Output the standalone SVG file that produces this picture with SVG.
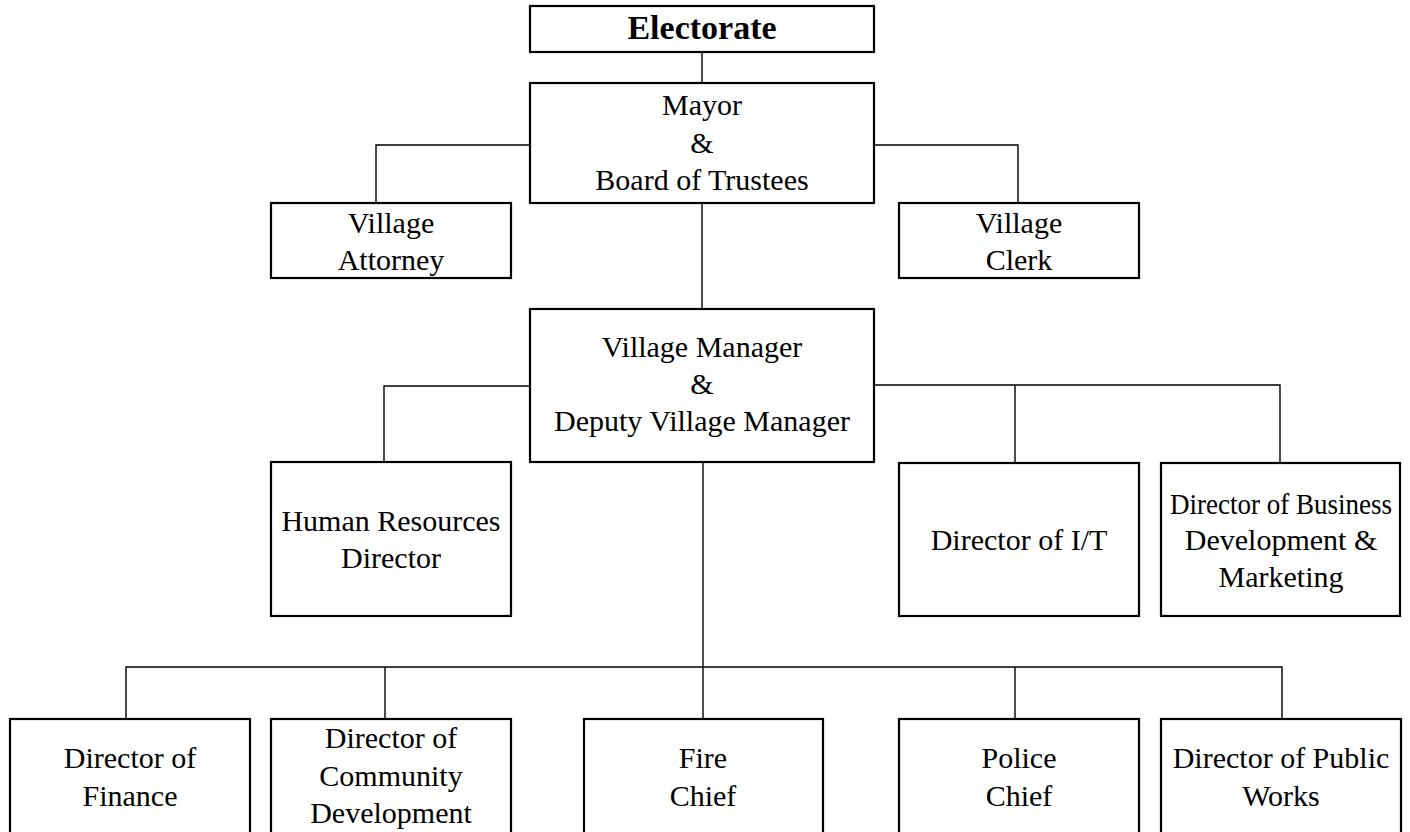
<svg xmlns="http://www.w3.org/2000/svg" width="1410" height="832" viewBox="0 0 1410 832">
<style>
.box{fill:#fff;stroke:#000;stroke-width:2.2}
.ln{fill:none;stroke:#000;stroke-width:1.4}
text{font-family:"Liberation Serif","Times New Roman",serif;font-size:30px;fill:#000;text-anchor:middle}
.b{font-weight:bold;font-size:34px}
</style>
<rect width="1410" height="832" fill="#fff"/>
<g id="connectors">
<path class="ln" d="M702,52V83"/>
<path class="ln" d="M530,145H376V203"/>
<path class="ln" d="M874,145H1018V203"/>
<path class="ln" d="M702,203V309"/>
<path class="ln" d="M530,386H384V462"/>
<path class="ln" d="M874,385H1280V463M1015,385V463"/>
<path class="ln" d="M703,462V719"/>
<path class="ln" d="M126,719V667H1282V719M385,667V719M1015,667V719"/>
</g>
<g id="electorate"><rect class="box" x="530" y="6" width="344" height="46"/><text class="b" x="702" y="39">Electorate</text></g>
<g id="mayor"><rect class="box" x="530" y="83" width="344" height="120"/><text x="702" y="115">Mayor</text><text x="702" y="153">&amp;</text><text x="702" y="190">Board of Trustees</text></g>
<g id="attorney"><rect class="box" x="271" y="203" width="240" height="75"/><text x="391" y="233">Village</text><text x="391" y="270">Attorney</text></g>
<g id="clerk"><rect class="box" x="899" y="203" width="240" height="75"/><text x="1019" y="233">Village</text><text x="1019" y="270">Clerk</text></g>
<g id="manager"><rect class="box" x="530" y="309" width="344" height="153"/><text x="702" y="357">Village Manager</text><text x="702" y="394">&amp;</text><text x="702" y="431">Deputy Village Manager</text></g>
<g id="hr"><rect class="box" x="271" y="462" width="240" height="154"/><text x="391" y="531">Human Resources</text><text x="391" y="568">Director</text></g>
<g id="it"><rect class="box" x="899" y="463" width="240" height="153"/><text x="1019" y="550">Director of I/T</text></g>
<g id="business"><rect class="box" x="1161" y="463" width="239" height="153"/><text x="1281" y="514" textLength="222" lengthAdjust="spacingAndGlyphs">Director of Business</text><text x="1281" y="550">Development &amp;</text><text x="1281" y="587">Marketing</text></g>
<g id="finance"><rect class="box" x="10" y="719" width="240" height="125"/><text x="130" y="768">Director of</text><text x="130" y="806">Finance</text></g>
<g id="community"><rect class="box" x="271" y="719" width="240" height="125"/><text x="391" y="748">Director of</text><text x="391" y="786">Community</text><text x="391" y="823">Development</text></g>
<g id="fire"><rect class="box" x="584" y="719" width="239" height="125"/><text x="703" y="768">Fire</text><text x="703" y="806">Chief</text></g>
<g id="police"><rect class="box" x="899" y="719" width="240" height="125"/><text x="1019" y="768">Police</text><text x="1019" y="806">Chief</text></g>
<g id="publicworks"><rect class="box" x="1161" y="719" width="240" height="125"/><text x="1281" y="768">Director of Public</text><text x="1281" y="806">Works</text></g>
</svg>
